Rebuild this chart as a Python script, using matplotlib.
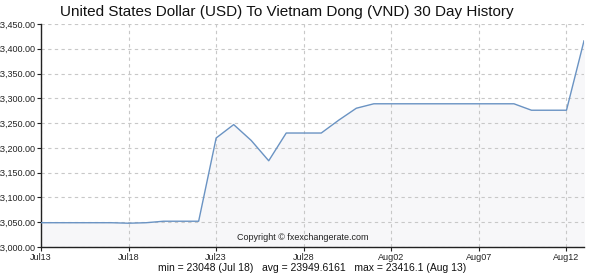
import numpy as np
import pandas as pd
import matplotlib
matplotlib.use("Agg")
import matplotlib.pyplot as plt
import matplotlib.dates as mdates
from matplotlib.ticker import FuncFormatter

dates = pd.date_range("2018-07-13", "2018-08-13", freq="D")
rates = [23049, 23049, 23049, 23049, 23049, 23048, 23049, 23052, 23052, 23052,
         23220, 23247, 23215, 23174, 23230, 23230, 23230, 23256, 23280, 23289,
         23289, 23289, 23289, 23289, 23289, 23289, 23289, 23289,
         23276, 23276, 23276, 23416]
tick_dates = pd.date_range("2018-07-13", "2018-08-12", freq="5D")
title = "United States Dollar (USD) To Vietnam Dong (VND) 30 Day History"
summary = "min = 23048 (Jul 18)   avg = 23949.6161   max = 23416.1 (Aug 13)"

fig = plt.figure(figsize=(6, 2.76), dpi=100)
ax = fig.add_axes([41/600, 1-247/276, 543/600, 223/276])

ax.fill_between(dates, rates, 23000, color="#f7f7f9", zorder=1)
ax.plot(dates, rates, color="#6a93c3", lw=1.0, zorder=3)

ax.set_ylim(23000, 23450)
ax.set_xlim(dates[0], dates[-1])
ax.set_yticks(np.arange(23000, 23451, 50))
ax.set_xticks(tick_dates)
ax.xaxis.set_major_formatter(mdates.DateFormatter("%b%d"))
ax.yaxis.set_major_formatter(FuncFormatter(lambda v, p: "{:,.2f}".format(v)))

ax.grid(True, color="#c8c8c8", ls=(0, (3, 3)), lw=0.8, zorder=0)
for s in ["top", "right"]:
    ax.spines[s].set_visible(False)
for s in ["left", "bottom"]:
    ax.spines[s].set_color("#222222")
    ax.spines[s].set_linewidth(1.0)
ax.tick_params(length=3, width=0.8, color="#222222", labelsize=6.5, pad=1,
               labelcolor="#222222")
for lab in ax.get_xticklabels() + ax.get_yticklabels():
    lab.set_family("Liberation Sans")

fig.text(287/600, 1-12/276, title, ha="center", va="center", fontsize=11,
         family="Liberation Sans", color="#111111")
fig.text(303/600, 1-238/276, "Copyright © fxexchangerate.com",
         ha="center", va="center", fontsize=6.5, family="Liberation Sans",
         color="#222222")
fig.text(312/600, 1-268/276, summary, ha="center", va="center", fontsize=7.5,
         family="Liberation Sans", color="#111111")

plt.savefig("out.png", dpi=100)
plt.close()
